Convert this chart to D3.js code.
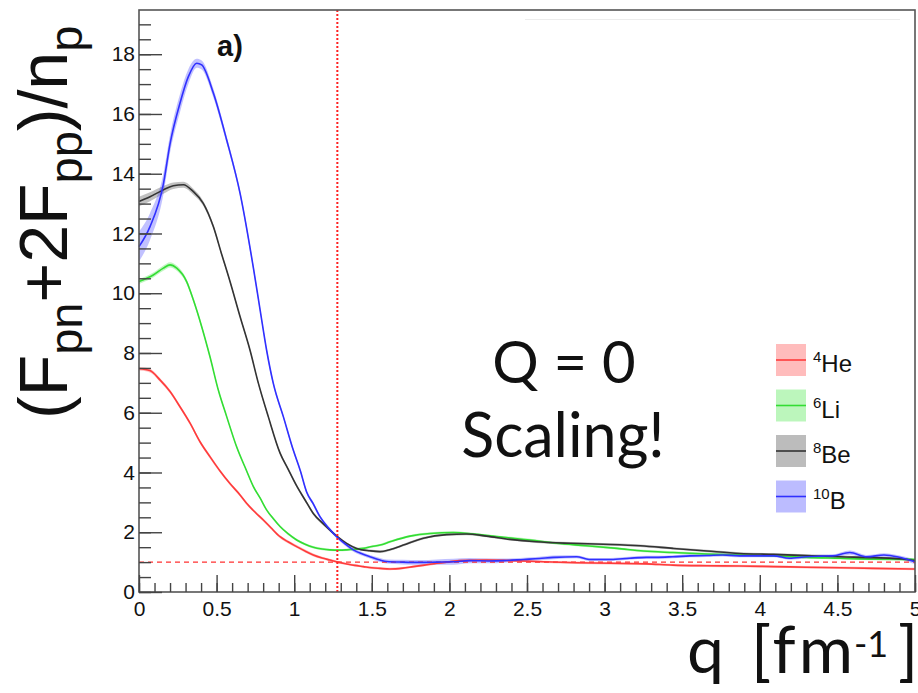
<!DOCTYPE html>
<html><head><meta charset="utf-8">
<script src="https://cdn.jsdelivr.net/npm/d3@7"></script>
<style>body{margin:0;background:#fff;} svg{display:block}</style>
</head><body><svg id="c" width="918" height="693"></svg>
<script>
// ---------- data ----------
const qHe=[0,0.07,0.135,0.2,0.264,0.329,0.393,0.457,0.522,0.586,0.651,0.693,0.75,0.801,0.85,0.909,0.96,1.016,1.07,1.123,1.18,1.23,1.28,1.338,1.39,1.445,1.5,1.553,1.617,1.7,1.767,1.84,1.918,2.0,2.07,2.24,2.41,2.61,2.82,3.04,3.27,3.44,3.66,3.87,4.09,4.30,4.52,4.73,5.0];
const vHe=[7.47,7.41,7.10,6.71,6.20,5.65,5.03,4.53,4.05,3.63,3.25,2.97,2.66,2.41,2.15,1.85,1.68,1.52,1.37,1.24,1.14,1.07,1.00,0.94,0.89,0.85,0.81,0.79,0.77,0.80,0.85,0.90,0.96,1.01,1.05,1.07,1.05,1.01,0.98,0.96,0.94,0.90,0.88,0.87,0.85,0.83,0.81,0.79,0.77];
const eHe=[0.06,0.06,0.06,0.06,0.06,0.06,0.06,0.06,0.05,0.05,0.05,0.05,0.05,0.05,0.05,0.05,0.05,0.05,0.05,0.05,0.04,0.04,0.04,0.04,0.04,0.04,0.04,0.04,0.04,0.04,0.04,0.04,0.04,0.04,0.04,0.04,0.04,0.04,0.04,0.04,0.04,0.04,0.04,0.04,0.04,0.04,0.04,0.04,0.04];

const qLi=[0,0.092,0.157,0.2,0.243,0.307,0.35,0.404,0.457,0.511,0.565,0.629,0.693,0.737,0.78,0.822,0.866,0.909,0.96,1.016,1.07,1.123,1.18,1.23,1.29,1.338,1.39,1.445,1.5,1.553,1.617,1.746,1.875,2.025,2.175,2.35,2.52,2.69,2.88,3.08,3.25,3.44,3.66,3.87,4.09,4.30,4.52,4.73,5.0];
const vLi=[10.39,10.61,10.84,10.95,10.84,10.39,9.78,8.88,7.88,6.76,5.87,4.86,4.06,3.53,3.15,2.75,2.45,2.19,1.95,1.74,1.60,1.50,1.44,1.41,1.40,1.41,1.43,1.46,1.52,1.57,1.68,1.87,1.96,1.99,1.93,1.83,1.74,1.63,1.55,1.46,1.37,1.32,1.27,1.24,1.21,1.16,1.13,1.10,1.09];
const eLi=[0.08,0.08,0.09,0.09,0.09,0.08,0.07,0.07,0.06,0.05,0.05,0.05,0.04,0.04,0.04,0.04,0.04,0.04,0.04,0.04,0.04,0.04,0.04,0.04,0.04,0.04,0.04,0.04,0.04,0.04,0.04,0.04,0.04,0.04,0.04,0.04,0.04,0.04,0.04,0.04,0.04,0.04,0.04,0.04,0.04,0.04,0.04,0.04,0.04];

const qBe=[0,0.071,0.157,0.221,0.286,0.35,0.414,0.479,0.53,0.586,0.651,0.715,0.769,0.833,0.909,0.96,1.016,1.07,1.123,1.2,1.274,1.34,1.402,1.488,1.553,1.62,1.703,1.832,1.983,2.11,2.24,2.39,2.56,2.78,2.99,3.23,3.44,3.66,3.87,4.09,4.30,4.52,4.73,4.95,5.0];
const vBe=[13.07,13.23,13.46,13.6,13.63,13.4,13.01,12.23,11.35,10.4,9.22,8.10,6.99,5.87,4.65,4.12,3.55,3.08,2.63,2.22,1.87,1.62,1.46,1.38,1.35,1.42,1.57,1.80,1.92,1.94,1.87,1.76,1.68,1.63,1.60,1.55,1.46,1.37,1.29,1.26,1.22,1.18,1.15,1.09,1.05];
const eBe=[0.16,0.15,0.13,0.11,0.1,0.1,0.08,0.07,0.05,0.05,0.05,0.05,0.05,0.05,0.05,0.05,0.05,0.05,0.05,0.05,0.04,0.04,0.04,0.04,0.04,0.04,0.04,0.04,0.04,0.04,0.04,0.04,0.04,0.04,0.04,0.04,0.04,0.04,0.04,0.04,0.04,0.04,0.04,0.04,0.04];

const qB=[0,0.071,0.157,0.2,0.264,0.318,0.372,0.404,0.479,0.565,0.651,0.737,0.78,0.822,0.865,0.93,0.994,1.04,1.08,1.123,1.166,1.22,1.274,1.33,1.381,1.44,1.488,1.553,1.596,1.7,1.81,1.92,2.025,2.13,2.25,2.35,2.48,2.58,2.67,2.82,2.9,3.04,3.16,3.27,3.33,3.44,3.55,3.66,3.76,3.87,3.98,4.09,4.19,4.30,4.40,4.47,4.58,4.69,4.80,4.90,5.0];
const vB=[11.56,12.23,13.65,15.0,16.36,17.25,17.7,17.64,16.7,15.13,13.35,10.85,9.45,8.10,6.99,5.87,4.75,4.05,3.35,2.95,2.52,2.15,1.85,1.6,1.41,1.27,1.18,1.07,1.02,1.0,0.99,1.0,1.01,1.05,1.04,1.05,1.09,1.12,1.16,1.18,1.09,1.09,1.13,1.16,1.16,1.18,1.21,1.22,1.24,1.21,1.21,1.21,1.13,1.18,1.2,1.21,1.32,1.18,1.24,1.16,1.01];
const eB=[0.5,0.45,0.35,0.3,0.3,0.25,0.15,0.15,0.15,0.12,0.1,0.1,0.08,0.08,0.08,0.06,0.06,0.06,0.06,0.06,0.06,0.06,0.06,0.06,0.06,0.06,0.06,0.07,0.07,0.08,0.08,0.09,0.1,0.09,0.08,0.07,0.06,0.06,0.06,0.05,0.05,0.05,0.05,0.05,0.05,0.05,0.05,0.05,0.05,0.05,0.05,0.05,0.05,0.05,0.05,0.05,0.07,0.06,0.06,0.06,0.08];

const seriesNames=["He","Li","Be","B"];
const seriesMass=["4","6","8","10"];
const lineColors=["#ff3b3b","#33dd33","#333333","#3030ff"];
const bandColors=["#ff2020","#20e020","#222222","#2020ff"];

const xTickValues=[0,0.5,1,1.5,2,2.5,3,3.5,4,4.5,5];
const yTickValues=[0,2,4,6,8,10,12,14,16,18];
const qCut=1.278;     // vertical dotted line
const unityLevel=1;   // horizontal dashed line

// ---------- chart ----------
const svg=d3.select("#c");
const x=d3.scaleLinear().domain([0,5]).range([139,915]);
const y=d3.scaleLinear().domain([0,19.48]).range([592,10]);

const series=[[qHe,vHe,eHe],[qLi,vLi,eLi],[qBe,vBe,eBe],[qB,vB,eB]].map((s,k)=>({
  name:seriesNames[k], mass:seriesMass[k], color:lineColors[k], band:bandColors[k],
  pts:s[0].map((q,i)=>({q:q,v:s[1][i],e:s[2][i]}))
}));

const curve=d3.curveMonotoneX;
const area=d3.area().x(d=>x(d.q)).y0(d=>y(d.v-d.e)).y1(d=>y(d.v+d.e)).curve(curve);
const line=d3.line().x(d=>x(d.q)).y(d=>y(d.v)).curve(curve);

const plot=svg.append("g");
// faint decoration line at top
svg.append("line").attr("x1",525).attr("x2",900).attr("y1",19.5).attr("y2",19.5)
  .attr("stroke","#ececec").attr("stroke-width",1);

plot.selectAll("path.band").data(series).join("path").attr("class","band")
  .attr("d",d=>area(d.pts)).attr("fill",d=>d.band).attr("fill-opacity",0.28).attr("stroke","none");

// unity dashed line
plot.append("line").attr("x1",x(0)).attr("x2",x(5)).attr("y1",y(unityLevel)).attr("y2",y(unityLevel))
  .attr("stroke","#ff3030").attr("stroke-width",1.3).attr("stroke-dasharray","5,4");

plot.selectAll("path.ln").data(series).join("path").attr("class","ln")
  .attr("d",d=>line(d.pts)).attr("fill","none").attr("stroke",d=>d.color).attr("stroke-width",1.6);

// vertical dotted line
plot.append("line").attr("x1",x(qCut)).attr("x2",x(qCut)).attr("y1",y(0)).attr("y2",y.range()[1])
  .attr("stroke","#ff2020").attr("stroke-width",2).attr("stroke-dasharray","2,2");

// frame
svg.append("rect").attr("x",139).attr("y",10).attr("width",776).attr("height",582)
  .attr("fill","none").attr("stroke","#555").attr("stroke-width",1.6);

// axes
const fmt=d=>d3.format("~g")(d);
const tickFont="'Liberation Sans', Arial, Helvetica, sans-serif";
function styleAxis(g){
  g.select(".domain").remove();
  g.selectAll(".tick line").attr("stroke","#444").attr("stroke-width",1.4);
  g.selectAll(".tick text").attr("fill","#111").style("font-family",tickFont).style("font-size","21px");
}
const xMinor=d3.range(0,5.0001,0.1);
const yMinor=d3.range(0,19.4,0.5);
svg.append("g").attr("transform",`translate(0,${y(0)})`)
  .call(d3.axisBottom(x).tickValues(xMinor).tickSizeInner(-9).tickSizeOuter(0).tickFormat("")).call(styleAxis);
svg.append("g").attr("transform",`translate(0,${y(0)})`)
  .call(d3.axisBottom(x).tickValues(xTickValues).tickSizeInner(-17).tickSizeOuter(0).tickPadding(9).tickFormat(fmt)).call(styleAxis);
svg.append("g").attr("transform",`translate(${x(0)},0)`)
  .call(d3.axisLeft(y).tickValues(yMinor).tickSizeInner(-12).tickSizeOuter(0).tickFormat("")).call(styleAxis);
svg.append("g").attr("transform",`translate(${x(0)},0)`)
  .call(d3.axisLeft(y).tickValues(yTickValues).tickSizeInner(-23).tickSizeOuter(0).tickPadding(4).tickFormat(fmt)).call(styleAxis);

// legend
const leg=svg.append("g");
const legY=d3.scaleLinear().domain([0,3]).range([360,496.5]);
series.forEach((s,i)=>{
  const cy=legY(i);
  leg.append("rect").attr("x",776).attr("y",cy-16).attr("width",30).attr("height",32)
    .attr("fill",s.band).attr("fill-opacity",0.3);
  leg.append("line").attr("x1",776).attr("x2",806).attr("y1",cy).attr("y2",cy)
    .attr("stroke",s.color).attr("stroke-width",1.6);
  const t=leg.append("text").attr("x",813).attr("y",cy+12).style("font-family",tickFont).attr("fill","#111");
  t.append("tspan").text(s.mass).style("font-size","15px").attr("dy",-10);
  t.append("tspan").text(s.name).style("font-size","24px").attr("dy",10);
});

// panel label
svg.append("text").attr("x",217).attr("y",56).text("a)")
  .style("font-family",tickFont).style("font-weight","bold").style("font-size","29px").attr("fill","#111");

// annotation
const calib="Lato, 'Open Sans', sans-serif";
svg.append("text").attr("x",564).attr("y",383).attr("text-anchor","middle").text("Q = 0")
  .style("font-family",calib).style("font-size","58px").attr("fill","#111");
svg.append("text").attr("x",563).attr("y",457).attr("text-anchor","middle").text("Scaling!")
  .style("font-family",calib).style("font-size","61px").attr("fill","#111");

// x title
const xt=svg.append("text").attr("y",673).style("font-family",calib).attr("fill","#111");
xt.append("tspan").attr("x",687).text("q").style("font-size","66px");
xt.append("tspan").attr("x",751).text("[fm").style("font-size","66px").style("letter-spacing","3px");
xt.append("tspan").attr("x",854).text("-1").style("font-size","36px").attr("dy",-16);
xt.append("tspan").attr("x",898).text("]").style("font-size","66px").attr("dy",16);

// y title
const yt=svg.append("text").attr("transform","translate(67,419) rotate(-90)")
  .style("font-family",tickFont).attr("fill","#111");
yt.append("tspan").text("(F").style("font-size","68px");
yt.append("tspan").text("pn").style("font-size","47px").attr("dy",15);
yt.append("tspan").text("+2F").style("font-size","68px").attr("dy",-15);
yt.append("tspan").text("pp").style("font-size","47px").attr("dy",15);
yt.append("tspan").text(")/n").style("font-size","68px").attr("dy",-15);
yt.append("tspan").text("p").style("font-size","47px").attr("dy",15);
</script></body></html>
